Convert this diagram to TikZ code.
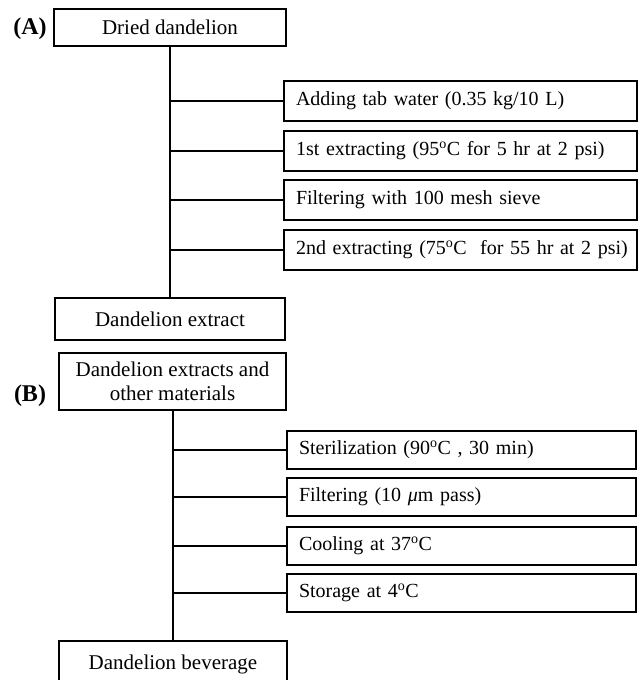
\documentclass[tikz,border=0pt]{standalone}
\usepackage{fontspec}
\setmainfont{Liberation Serif}
\begin{document}
\begin{tikzpicture}[x=1pt,y=-1pt,
  font=\fontsize{20}{23}\selectfont,
  box/.style={draw, line width=2pt, inner sep=0pt, outer sep=0pt, anchor=north west},
  cbox/.style={box, align=center, font=\fontsize{21}{24}\selectfont},
  lbox/.style={box, inner xsep=12pt, align=left},
  tag/.style={font=\fontsize{24}{26}\selectfont\bfseries},
  conn/.style={line width=2pt}]
\clip (0,0) rectangle (642,680);
\useasboundingbox (0,0) rectangle (642,680);
% ---- (A)
\node[tag] (la) at (30,29) {(A)};
\node[cbox, minimum width=232, minimum height=37] (a) at (54,9) {Dried dandelion};
\node[lbox, text width=329, minimum height=40] (a1) at (284,81) {\mbox{Adding tab water (0.35 kg/10 L)}};
\node[lbox, text width=329, minimum height=40] (a2) at (284,131) {\mbox{1st extracting (95\textsuperscript{o}C for 5 hr at 2 psi)}};
\node[lbox, text width=329, minimum height=40] (a3) at (284,180) {\mbox{Filtering with 100 mesh sieve}};
\node[lbox, text width=329, minimum height=40] (a4) at (284,230) {\mbox{2nd extracting (75\textsuperscript{o}C\ \ for 55 hr at 2 psi)}};
\node[cbox, minimum width=230, minimum height=42] (ae) at (55,298) {Dandelion extract};
\draw[conn] (a.south) -- (ae.north);
\foreach \n in {a1,a2,a3,a4} \draw[conn] (a.south |- \n.west) -- (\n.west);
% ---- (B)
\node[tag] (lb) at (30,396) {(B)};
\node[cbox, minimum width=227, minimum height=57] (b) at (59,353) {Dandelion extracts and\\other materials};
\node[lbox, text width=325, minimum height=38] (b1) at (287,431) {\mbox{Sterilization (90\textsuperscript{o}C , 30 min)}};
\node[lbox, text width=325, minimum height=38] (b2) at (287,478) {\mbox{Filtering (10 \textit{μ}m pass)}};
\node[lbox, text width=325, minimum height=38] (b3) at (287,527) {\mbox{Cooling at 37\textsuperscript{o}C}};
\node[lbox, text width=325, minimum height=38] (b4) at (287,574) {\mbox{Storage at 4\textsuperscript{o}C}};
\node[cbox, minimum width=228, minimum height=60] (be) at (59,641) {};
\node[font=\fontsize{21}{24}\selectfont] (bet) at (173,664) {Dandelion beverage};
\coordinate (bx) at (173,0);
\draw[conn] (bx |- b.south) -- (bx |- be.north);
\foreach \n in {b1,b2,b3,b4} \draw[conn] (bx |- \n.west) -- (\n.west);
\end{tikzpicture}
\end{document}
